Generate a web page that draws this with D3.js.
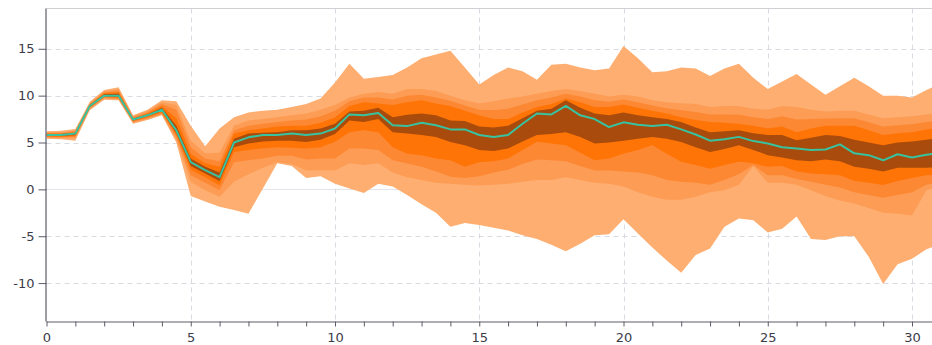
<!DOCTYPE html>
<html>
<head>
<meta charset="utf-8">
<script src="https://cdn.jsdelivr.net/npm/d3@7"></script>
<style>
  body { margin: 0; background: #fff; }
  svg { display: block; font-family: "DejaVu Sans", sans-serif; }
</style>
</head>
<body>
<svg id="chart" width="932" height="345"></svg>
<script>
// Forecast horizon (half-step grid)
const steps = [0,0.5,1,1.5,2,2.5,3,3.5,4,4.5,5,5.5,6,6.5,7,7.5,8,8.5,9,9.5,
  10,10.5,11,11.5,12,12.5,13,13.5,14,14.5,15,15.5,16,16.5,17,17.5,18,18.5,19,19.5,
  20,20.5,21,21.5,22,22.5,23,23.5,24,24.5,25,25.5,26,26.5,27,27.5,28,28.5,29,29.5,
  30,30.5,31];

// Central path
const median = [5.8,5.8,5.95,8.9,10.0,10.0,7.45,7.9,8.5,6.3,
  2.9,2.05,1.3,5.0,5.55,5.8,5.8,5.95,5.8,5.95,
  6.5,8.0,7.9,8.15,6.85,6.75,7.1,6.85,6.4,6.4,
  5.8,5.6,5.8,7.0,8.1,8.0,8.9,7.9,7.5,6.65,
  7.15,6.9,6.75,6.9,6.4,5.85,5.2,5.35,5.6,5.15,
  4.9,4.5,4.35,4.2,4.25,4.8,3.85,3.65,3.1,3.75,
  3.4,3.7,3.9];

// Band edges, outermost (lo1/hi1) to innermost (lo5/hi5)
const hi1 = [6.2,6.25,6.45,9.35,10.6,10.9,7.9,8.5,9.5,9.4,6.8,4.6,6.5,
  7.7,8.2,8.4,8.5,8.8,9.1,9.7,
  11.4,13.4,11.8,12.0,12.2,13.0,14.0,14.4,14.8,13.0,11.2,
  12.2,13.0,12.6,11.7,13.3,13.4,13.0,12.7,12.9,15.3,
  14.0,12.5,12.6,13.0,12.9,12.1,12.9,13.4,11.9,10.7,11.5,12.3,11.2,10.1,11.0,11.9,11.0,10.0,10.0,9.8,10.6,11.3];
const hi2 = [6.1,6.1,6.3,9.2,10.45,10.7,7.8,8.35,9.3,9.0,5.2,3.85,3.9,
  6.8,7.35,7.5,7.7,7.9,8.1,8.5,
  9.0,9.8,10.2,10.4,10.2,10.7,10.7,10.5,10.0,9.5,9.15,
  9.4,9.7,9.9,10.2,10.5,10.7,10.5,10.2,9.9,10.1,
  9.9,9.5,9.3,9.2,9.1,8.8,8.9,8.9,8.6,8.5,8.9,8.8,8.5,8.3,8.4,8.4,8.0,7.6,7.7,7.8,8.0,8.2];
const hi3 = [6.0,6.0,6.2,9.1,10.35,10.5,7.7,8.2,9.1,8.5,4.5,3.3,3.0,
  6.3,6.8,7.0,7.2,7.35,7.45,7.8,
  8.4,9.4,9.8,9.8,9.6,10.0,10.1,9.8,9.45,8.95,8.5,
  8.45,8.6,9.05,9.5,9.8,10.2,9.9,9.5,9.35,9.6,
  9.3,8.95,8.65,8.45,8.25,8.0,8.0,7.95,7.7,7.5,7.8,7.45,7.5,7.55,7.6,7.6,7.15,6.7,6.85,6.95,7.2,7.4];
const hi4 = [5.95,5.95,6.1,9.05,10.25,10.35,7.6,8.1,8.9,7.6,3.8,2.8,2.4,
  5.95,6.3,6.5,6.7,6.8,6.8,7.1,
  7.7,8.9,9.3,9.15,9.0,9.3,9.5,9.15,8.9,8.4,7.9,
  7.5,7.5,8.2,8.8,9.1,9.7,9.3,8.8,8.8,9.05,
  8.7,8.4,8.1,7.7,7.4,7.2,7.1,7.0,6.8,6.5,6.7,6.1,6.5,6.8,6.8,6.8,6.3,5.8,6.0,6.1,6.4,6.6];
const hi5 = [5.9,5.9,6.05,9.0,10.15,10.2,7.55,8.0,8.7,6.8,3.3,2.4,1.8,
  5.4,5.95,6.05,6.1,6.3,6.3,6.5,
  7.0,8.3,8.4,8.7,7.7,7.95,8.1,7.9,7.35,7.3,6.7,
  6.6,6.8,7.6,8.4,8.6,9.5,8.7,8.1,7.9,8.2,
  7.9,7.7,7.5,7.2,6.6,6.1,6.2,6.3,6.0,5.8,5.8,5.25,5.5,5.8,5.7,5.3,5.0,4.7,5.0,5.1,5.3,5.5];
const lo5 = [5.7,5.7,5.8,8.8,9.9,9.85,7.35,7.8,8.35,6.0,2.5,1.7,0.9,
  4.5,4.9,5.1,5.2,5.2,5.05,5.3,
  5.9,7.35,7.2,7.5,6.1,5.95,5.8,5.6,5.05,4.7,4.2,
  4.1,4.35,5.1,5.8,5.9,6.1,5.6,4.9,5.0,5.2,
  5.4,5.6,5.4,5.05,4.5,4.0,4.3,4.7,4.2,3.65,3.4,3.1,3.0,3.2,3.0,2.4,2.2,1.9,2.3,2.3,2.3,2.4];
const lo4 = [5.65,5.6,5.7,8.7,9.85,9.75,7.3,7.7,8.2,5.8,2.1,1.3,0.4,
  4.0,4.2,4.4,4.5,4.45,4.35,4.5,
  5.07,6.1,6.3,6.1,4.5,3.8,3.65,3.3,3.1,2.4,2.9,
  3.0,3.3,4.2,5.07,4.9,4.7,3.9,3.1,3.3,3.8,
  4.2,4.7,3.8,2.95,2.6,2.2,2.6,2.95,2.8,2.4,2.5,1.9,1.7,1.6,1.5,0.9,0.7,0.46,0.9,1.2,1.5,1.6];
const lo3 = [5.6,5.55,5.6,8.65,9.8,9.7,7.2,7.6,8.1,5.6,1.5,0.7,-0.1,
  2.9,3.1,3.3,3.6,3.6,3.2,3.3,
  3.3,4.35,4.35,4.2,3.1,2.76,2.4,1.9,1.35,1.2,1.4,
  1.8,2.1,2.7,3.2,3.1,3.0,2.5,2.0,2.0,1.9,
  1.8,1.5,1.0,0.8,0.7,0.5,1.0,1.6,2.6,1.5,1.5,1.1,0.8,0.5,0.2,-0.3,-0.6,-0.9,-0.6,-0.3,0.5,0.8];
const lo2 = [5.5,5.45,5.45,8.55,9.7,9.6,7.1,7.5,8.0,5.3,0.8,-0.1,-0.8,
  0.8,1.6,2.3,2.9,2.7,2.0,2.0,
  2.0,2.8,2.6,2.8,1.8,1.3,1.0,0.7,0.6,0.5,0.4,
  0.5,0.6,0.8,1.0,1.0,1.3,1.0,0.7,0.6,0.3,
  -0.3,-0.8,-1.1,-1.1,-0.8,-0.3,-0.1,0.5,2.5,0.7,0.7,0.5,-0.1,-0.7,-1.2,-1.5,-2.0,-2.5,-2.6,-2.8,-0.1,0.3];
const lo1 = [5.4,5.35,5.2,8.45,9.55,9.5,7.0,7.4,7.9,5.0,-0.7,-1.3,-1.85,
  -2.2,-2.6,0.1,2.8,2.5,1.2,1.4,
  0.6,0.1,-0.4,0.6,0.3,-0.6,-1.6,-2.5,-4.0,-3.6,-3.8,
  -4.1,-4.4,-4.9,-5.3,-5.9,-6.6,-5.8,-4.9,-4.8,-3.2,
  -4.7,-6.2,-7.6,-8.9,-7.0,-6.3,-4.0,-3.1,-3.3,-4.6,-4.2,-2.9,-5.3,-5.4,-5.0,-5.0,-7.2,-10.1,-8.0,-7.4,-6.4,-5.8];

const yTicks = [-10, -5, 0, 5, 10, 15];
const xLabelEvery = 5;

const W = 932, H = 345;
const mLeft = 46.5, mTop = 8.5, mBottom = 321.5;

const x = d3.scaleLinear().domain([0, 31]).range([mLeft, mLeft + 31 * 28.85]);
const y = d3.scaleLinear().domain([-14.1, 19.3]).range([mBottom, mTop]);

const svg = d3.select("#chart");
svg.append("rect").attr("width", W).attr("height", H).attr("fill", "#fff");

svg.append("defs").append("clipPath").attr("id", "plot")
  .append("rect").attr("x", mLeft).attr("y", mTop).attr("width", W - mLeft).attr("height", mBottom - mTop);

// grid
const grid = svg.append("g");
grid.selectAll("line.h").data(yTicks).join("line")
  .attr("class", "h")
  .attr("x1", mLeft).attr("x2", W)
  .attr("y1", d => Math.round(y(d)) + 0.5).attr("y2", d => Math.round(y(d)) + 0.5)
  .attr("stroke", d => d === 0 ? "#e4e4ea" : "#dadae2")
  .attr("stroke-dasharray", d => d === 0 ? null : "5,4");
grid.selectAll("line.v").data(d3.range(5, 31, xLabelEvery)).join("line")
  .attr("class", "v")
  .attr("y1", mTop).attr("y2", mBottom)
  .attr("x1", d => Math.round(x(d)) + 0.5).attr("x2", d => Math.round(x(d)) + 0.5)
  .attr("stroke", "#dadae2")
  .attr("stroke-dasharray", "5,4");

// fan bands
const bands = [
  { lo: lo1, hi: hi1, color: "#fdae70" },
  { lo: lo2, hi: hi2, color: "#fd9c55" },
  { lo: lo3, hi: hi3, color: "#fd8833" },
  { lo: lo4, hi: hi4, color: "#ff7406" },
  { lo: lo5, hi: hi5, color: "#a84b0c" }
];
const plot = svg.append("g").attr("clip-path", "url(#plot)");
bands.forEach(b => {
  const area = d3.area()
    .x((d, i) => x(steps[i]))
    .y0((d, i) => y(b.lo[i]))
    .y1((d, i) => y(b.hi[i]));
  plot.append("path").datum(steps).attr("d", area).attr("fill", b.color);
});

const line = d3.line().x((d, i) => x(steps[i])).y(d => y(d));
plot.append("path").datum(median).attr("d", line)
  .attr("fill", "none").attr("stroke", "#38c29f").attr("stroke-width", 2)
  .attr("stroke-linejoin", "round");

// frame top
svg.append("line").attr("x1", mLeft).attr("x2", W).attr("y1", mTop).attr("y2", mTop)
  .attr("stroke", "#cfcfd4");

// axes
const axisColor = "#5c5c68", textColor = "#3c3c48";
const xAxis = svg.append("g").attr("transform", `translate(0,${mBottom})`)
  .call(d3.axisBottom(x).tickValues(d3.range(0, 32)).tickSize(5).tickPadding(6).tickSizeOuter(0)
    .tickFormat(d => d % xLabelEvery === 0 ? String(d) : ""));
const yAxis = svg.append("g").attr("transform", `translate(${mLeft},0)`)
  .call(d3.axisLeft(y).tickValues(yTicks).tickSize(8).tickPadding(4).tickSizeOuter(0)
    .tickFormat(d => String(d)));
[xAxis, yAxis].forEach(a => {
  a.select(".domain").attr("stroke", axisColor).attr("stroke-width", 1.2);
  a.selectAll(".tick line").attr("stroke", axisColor);
  a.selectAll(".tick text").attr("fill", textColor).attr("font-size", 13)
    .attr("font-family", "DejaVu Sans, sans-serif");
});
xAxis.select(".domain").attr("d", `M${mLeft},0.5H${W}`);
yAxis.select(".domain").attr("d", `M-0.5,${mTop}V${mBottom}`);
</script>
</body>
</html>
